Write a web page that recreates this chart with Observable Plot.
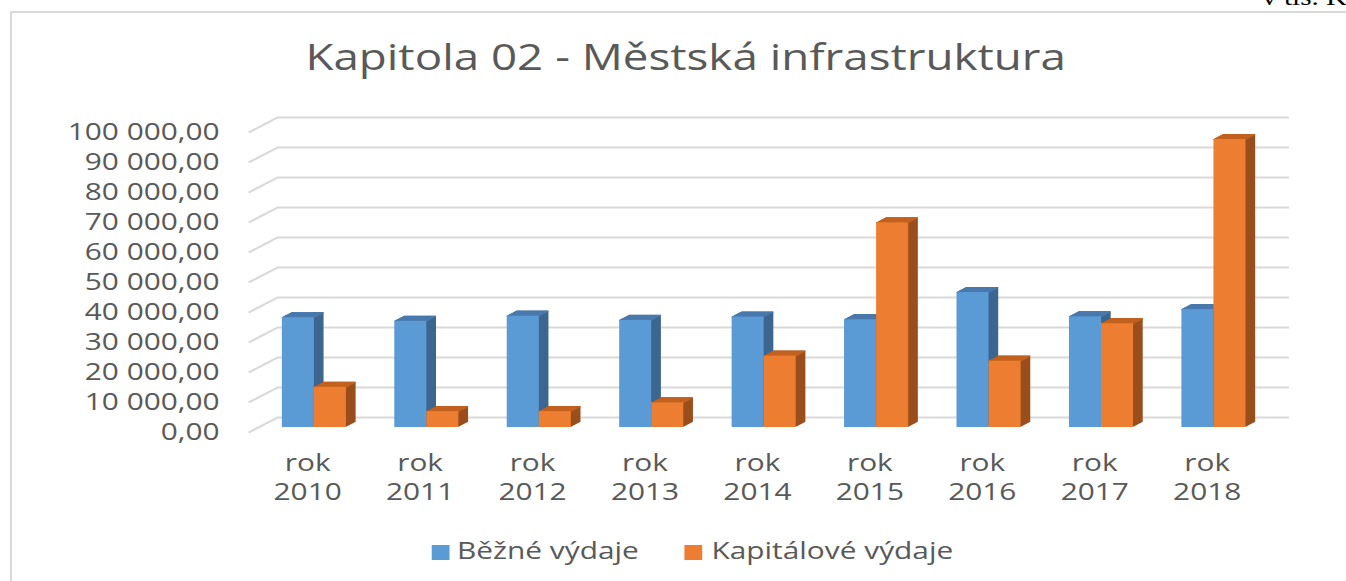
<!DOCTYPE html>
<html>
<head>
<meta charset="utf-8">
<script src="https://cdn.jsdelivr.net/npm/d3@7"></script>
<script src="https://cdn.jsdelivr.net/npm/@observablehq/plot@0.6"></script>
<style>
  html, body { margin: 0; padding: 0; background: #fff; width: 1346px; height: 581px; overflow: hidden; position: relative; }
  #frame { position: absolute; left: 10px; top: 11px; width: 1400px; height: 700px; border: 2px solid #d9d9d9; box-sizing: border-box; }
  #unit { position: absolute; left: 1262px; top: -14px; font-family: "Liberation Serif"; font-size: 23px; line-height: 23px; color: #000; transform: scaleX(1.27); transform-origin: 0 0; white-space: nowrap; }
  #chart { position: absolute; left: 0; top: 0; width: 1060px; transform-origin: 0 0; }
  #title { height: 100px; position: relative; font-family: "Open Sans"; font-size: 36px; color: #595959; }
  #title span { position: absolute; top: 39px; left: 540px; transform: translateX(-50%); white-space: nowrap; line-height: 36px; }
  #legend { height: 61px; position: relative; font-family: "Open Sans"; font-size: 23.5px; color: #595959; }
  #legend .sw { position: absolute; top: 25px; width: 14.2px; height: 14.5px; }
  #legend .lb { position: absolute; top: 18.6px; line-height: 23.5px; white-space: nowrap; }
  svg { display: block; }
</style>
</head>
<body>
<div id="frame"></div>
<div id="unit">v tis. Kč</div>
<div id="chart">
  <div id="title"><span>Kapitola 02 - Městská infrastruktura</span></div>
  <div id="plot"></div>
  <div id="legend"></div>
</div>
<script>
// ---- data ----
const years = ["2010", "2011", "2012", "2013", "2014", "2015", "2016", "2017", "2018"];
const bezneVydaje = [36600, 35400, 37100, 35700, 36800, 35900, 45000, 36900, 39300];
const kapitaloveVydaje = [13400, 5300, 5300, 8200, 23800, 68200, 22100, 34600, 96000];
const yTicks = [0, 10000, 20000, 30000, 40000, 50000, 60000, 70000, 80000, 90000, 100000];
const seriesNames = ["Běžné výdaje", "Kapitálové výdaje"];

// ---- styling / layout ----
const S = 1346 / 1060;          // horizontal stretch of the original picture
const W = 1060, H = 420;
const mL = 277 / S, mR = W - 1289 / S, mT = 17, mB = 103;
const depthX = 29 / S, depthY = 15;   // oblique depth of the 3D box (px)
const grid = "#d9d9d9";
const colors = [
  {front: "#5B9BD5", top: "#4879AC", side: "#3C6590"},
  {front: "#ED7D31", top: "#C2601F", side: "#9A4E1C"}
];
const slots = [[0.215, 0.5], [0.5, 0.785]];

const rows = years.map((y, i) => ({i, year: y, v0: bezneVydaje[i], v1: kapitaloveVydaje[i]}));
const fmt = d3.formatLocale({decimal: ",", thousands: " ", grouping: [3], currency: ["", ""]}).format(",.2f");

const unitX = (W - mL - mR) / years.length;
const unitY = (H - mT - mB) / 100000;

const marks = [];
// back wall gridlines + left diagonal edges
marks.push(Plot.ruleY(yTicks, {stroke: grid, strokeWidth: 2}));
marks.push(Plot.link(yTicks, {
  x1: () => -depthX / unitX, y1: d => d - depthY / unitY,
  x2: () => 0, y2: d => d,
  stroke: grid, strokeWidth: 2
}));
// axes
marks.push(Plot.axisY({
  ticks: yTicks, tickFormat: fmt, tickSize: 0, tickPadding: (277 - 219) / S,
  dy: depthY, label: null, fontSize: 23.5
}));
marks.push(Plot.axisX({
  ticks: years.map((_, i) => i + 0.5), tickFormat: d => "rok\n" + years[Math.floor(d)],
  tickSize: 0, tickPadding: 32.3, dx: -26.2 / S, lineHeight: 1.25, label: null, fontSize: 23.5
}));

// 3D bars
const fdx = -2 / 3 * depthX, fdy = 2 / 3 * depthY;   // front face offset
const bdx = -1 / 3 * depthX, bdy = 1 / 3 * depthY;   // back face offset
const N = 12;
[0, 1].forEach(s => {
  const [a, b] = slots[s];
  const val = d => (s === 0 ? d.v0 : d.v1);
  const x1 = d => d.i + a, x2 = d => d.i + b;
  for (let k = 1; k <= N; k++) {
    const dx = fdx + (bdx - fdx) * k / N, dy = fdy + (bdy - fdy) * k / N;
    marks.push(Plot.rect(rows, {x1, x2, y1: () => 0, y2: val, fill: colors[s].side, dx, dy}));
  }
  for (let k = 0; k <= N; k++) {
    const dx = fdx + (bdx - fdx) * k / N, dy = fdy + (bdy - fdy) * k / N;
    marks.push(Plot.ruleY(rows, {x1, x2, y: val, stroke: colors[s].top, strokeWidth: 1.2, dx, dy}));
  }
  marks.push(Plot.rect(rows, {x1, x2, y1: () => 0, y2: val, fill: colors[s].front, dx: fdx, dy: fdy}));
});

const svg = Plot.plot({
  width: W, height: H,
  marginLeft: mL, marginRight: mR, marginTop: mT, marginBottom: mB,
  x: {type: "linear", domain: [0, years.length]},
  y: {type: "linear", domain: [0, 100000]},
  style: {fontFamily: "Open Sans", fontSize: "23.5px", color: "#595959", background: "transparent", overflow: "visible"},
  marks
});
document.getElementById("plot").appendChild(svg);

// legend
const legend = document.getElementById("legend");
const legendPos = [[340.2, 359.9], [538.6, 560.3]];
seriesNames.forEach((name, s) => {
  const sw = document.createElement("div");
  sw.className = "sw"; sw.style.left = legendPos[s][0] + "px"; sw.style.background = colors[s].front;
  const lb = document.createElement("div");
  lb.className = "lb"; lb.style.left = legendPos[s][1] + "px"; lb.textContent = name;
  legend.appendChild(sw); legend.appendChild(lb);
});

document.getElementById("chart").style.transform = `scaleX(${S})`;
</script>
</body>
</html>
